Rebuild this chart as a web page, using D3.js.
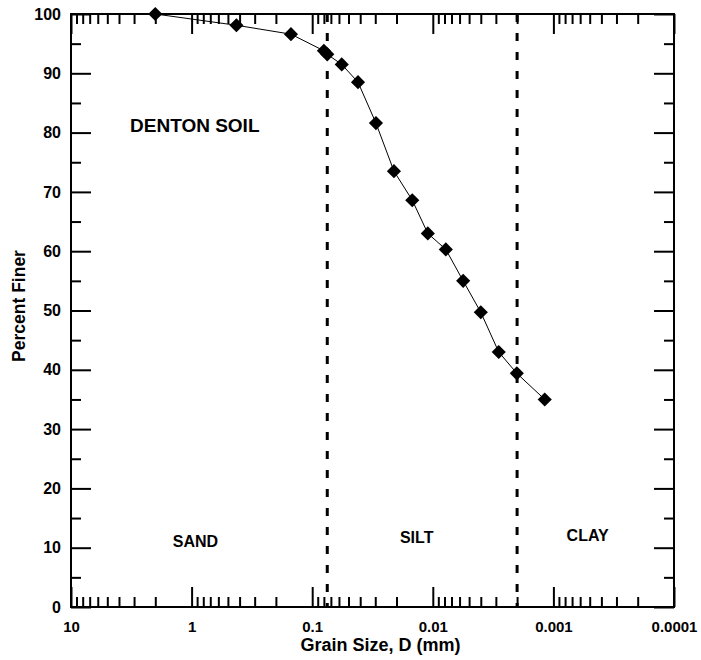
<!DOCTYPE html>
<html>
<head>
<meta charset="utf-8">
<script src="https://cdn.jsdelivr.net/npm/d3@7"></script>
<style>
  html, body { margin: 0; padding: 0; background: #fff; }
  svg { display: block; font-family: "Liberation Sans", Arial, Helvetica, sans-serif; font-weight: bold; }
</style>
</head>
<body>
<svg id="chart" width="701" height="660"></svg>
<script>
// Grain size distribution (sieve + hydrometer) for Denton soil
const grainSize = [2.0, 0.425, 0.15, 0.08, 0.075, 0.0569, 0.0417, 0.0296, 0.021, 0.0148, 0.0110, 0.0078, 0.0056, 0.0040, 0.00284, 0.00201, 0.00118];
const percentFiner = [100, 98.1, 96.6, 93.8, 93.2, 91.5, 88.5, 81.6, 73.5, 68.6, 63.0, 60.3, 55.0, 49.7, 43.0, 39.4, 35.0];

// Axis ticks
const xMajorTicks = [10, 1, 0.1, 0.01, 0.001, 0.0001];
const xTickLabels = ["10", "1", "0.1", "0.01", "0.001", "0.0001"];
const yMajorTicks = [0, 10, 20, 30, 40, 50, 60, 70, 80, 90, 100];
const yMinorTicks = [5, 15, 25, 35, 45, 55, 65, 75, 85, 95];

// Soil class boundaries (mm) and zone labels
const boundaries = [0.075, 0.002];
const zoneNames = ["SAND", "SILT", "CLAY"];
const zoneLabelX = [0.93, 0.0136, 0.00052];
const zoneLabelY = [10.1, 10.8, 11.1];

const svg = d3.select("#chart");
const plotLeft = 71, plotRight = 674, plotTop = 14, plotBottom = 607;

const x = d3.scaleLog().domain([10, 0.0001]).range([plotLeft, plotRight]);
const y = d3.scaleLinear().domain([0, 100]).range([plotBottom, plotTop]);

// minor log ticks: 2..9 within every decade
const xMinorTicks = [];
for (let e = -4; e < 1; e++) {
  for (let m = 2; m <= 9; m++) xMinorTicks.push(+(m * Math.pow(10, e)).toPrecision(3));
}

const labelFmt = d => xTickLabels[xMajorTicks.indexOf(d)];

function styleAxis(g) {
  g.select(".domain").remove();
  g.selectAll(".tick line").attr("stroke", "#000").attr("stroke-width", 2);
  g.selectAll(".tick text").attr("fill", "#000").attr("font-weight", "bold");
}

// bottom axis
svg.append("g").attr("transform", `translate(0,${plotBottom})`)
  .call(d3.axisBottom(x).tickValues(xMajorTicks).tickFormat(labelFmt).tickSize(-20).tickPadding(14))
  .call(styleAxis)
  .call(g => g.selectAll(".tick text").attr("font-size", 15).attr("font-family", "Liberation Sans, Arial, sans-serif"));
svg.append("g").attr("transform", `translate(0,${plotBottom})`)
  .call(d3.axisBottom(x).tickValues(xMinorTicks).tickFormat("").tickSize(-10))
  .call(styleAxis);

// top axis
svg.append("g").attr("transform", `translate(0,${plotTop})`)
  .call(d3.axisTop(x).tickValues(xMajorTicks).tickFormat("").tickSize(-20))
  .call(styleAxis);
svg.append("g").attr("transform", `translate(0,${plotTop})`)
  .call(d3.axisTop(x).tickValues(xMinorTicks).tickFormat("").tickSize(-10))
  .call(styleAxis);

// left axis
svg.append("g").attr("transform", `translate(${plotLeft},0)`)
  .call(d3.axisLeft(y).tickValues(yMajorTicks).tickFormat(d3.format("d")).tickSize(-20).tickPadding(10))
  .call(styleAxis)
  .call(g => g.selectAll(".tick text").attr("font-size", 16).attr("font-family", "Liberation Sans, Arial, sans-serif"));
svg.append("g").attr("transform", `translate(${plotLeft},0)`)
  .call(d3.axisLeft(y).tickValues(yMinorTicks).tickFormat("").tickSize(-10))
  .call(styleAxis);

// right axis
svg.append("g").attr("transform", `translate(${plotRight},0)`)
  .call(d3.axisRight(y).tickValues(yMajorTicks).tickFormat("").tickSize(-20))
  .call(styleAxis);
svg.append("g").attr("transform", `translate(${plotRight},0)`)
  .call(d3.axisRight(y).tickValues(yMinorTicks).tickFormat("").tickSize(-10))
  .call(styleAxis);

// frame
svg.append("rect")
  .attr("x", plotLeft).attr("y", plotTop)
  .attr("width", plotRight - plotLeft).attr("height", plotBottom - plotTop)
  .attr("fill", "none").attr("stroke", "#000").attr("stroke-width", 2);

// class boundaries
svg.selectAll("line.boundary").data(boundaries).join("line")
  .attr("class", "boundary")
  .attr("x1", d => x(d)).attr("x2", d => x(d))
  .attr("y1", plotTop).attr("y2", plotBottom)
  .attr("stroke", "#000").attr("stroke-width", 3)
  .attr("stroke-dasharray", "8 11");

// gradation curve
const pts = grainSize.map((d, i) => [d, percentFiner[i]]);
svg.append("path")
  .datum(pts)
  .attr("fill", "none").attr("stroke", "#000").attr("stroke-width", 1)
  .attr("d", d3.line().x(d => x(d[0])).y(d => y(d[1])));

const diamond = d3.symbol().type(d3.symbolSquare).size(100)();
svg.selectAll("path.pt").data(pts).join("path")
  .attr("class", "pt")
  .attr("d", diamond)
  .attr("fill", "#000")
  .attr("transform", d => `translate(${x(d[0])},${y(d[1])}) rotate(45)`);

// annotations
svg.append("text")
  .attr("x", x(3.24)).attr("y", y(80.1))
  .attr("font-size", 19).attr("fill", "#000")
  .text("DENTON SOIL");

svg.selectAll("text.zone").data(zoneNames).join("text")
  .attr("class", "zone")
  .attr("x", (d, i) => x(zoneLabelX[i]))
  .attr("y", (d, i) => y(zoneLabelY[i]))
  .attr("text-anchor", "middle")
  .attr("font-size", 16).attr("fill", "#000")
  .text(d => d);

// axis titles
svg.append("text")
  .attr("x", (plotLeft + plotRight) / 2 + 8).attr("y", 651)
  .attr("text-anchor", "middle").attr("font-size", 18).attr("fill", "#000")
  .text("Grain Size, D (mm)");

svg.append("text")
  .attr("transform", `translate(25,${306}) rotate(-90)`)
  .attr("text-anchor", "middle").attr("font-size", 17.5).attr("fill", "#000")
  .text("Percent Finer");
</script>
</body>
</html>
